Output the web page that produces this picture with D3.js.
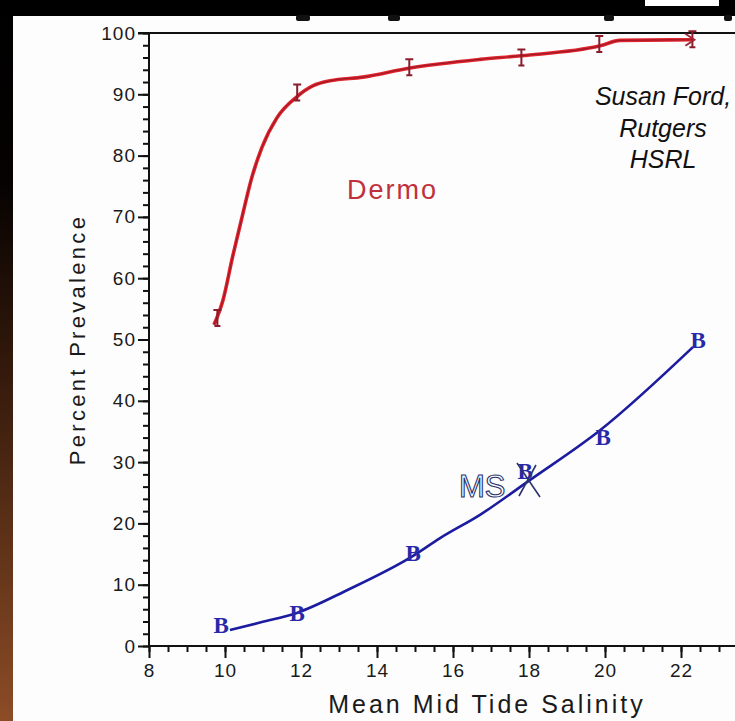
<!DOCTYPE html>
<html><head><meta charset="utf-8">
<script src="https://cdn.jsdelivr.net/npm/d3@7/dist/d3.min.js"></script>
<style>
html,body{margin:0;padding:0;background:#fff;overflow:hidden}
svg{display:block}
</style></head>
<body>
<svg id="c" width="735" height="721"></svg>
<script>
// ---- data ----
const xTickValues = [8, 10, 12, 14, 16, 18, 20, 22];
const yTickValues = [0, 10, 20, 30, 40, 50, 60, 70, 80, 90, 100];
const xMinorValues = d3.range(8, 23.5, 0.5);
const yMinorValues = d3.range(0, 101, 2);

// Dermo fitted curve (salinity, percent)
const dermoCurveX = [9.71, 9.95, 10.2, 10.45, 10.7, 10.97, 11.37, 11.89, 12.32, 12.76, 13.63, 14.87, 16.71, 17.8, 19.87, 20.4, 22.3];
const dermoCurveY = [52.4, 56.5, 63.5, 70.0, 76.3, 81.3, 86.2, 89.6, 91.4, 92.2, 92.8, 94.3, 95.7, 96.3, 97.9, 98.8, 98.9];
// Dermo observed points
const dermoPointX = [9.8, 11.9, 14.85, 17.8, 19.85, 22.3];
const dermoPointY = [53.5, 90.3, 94.4, 96.0, 98.2, 99.0];

// MSX fitted curve
const msxCurveX = [10.13, 10.97, 11.89, 13.21, 14.95, 15.66, 16.71, 18.03, 19.87, 22.32];
const msxCurveY = [2.6, 3.9, 5.4, 9.1, 14.7, 17.6, 21.4, 27.1, 35.2, 48.8];
// MSX observed points
const msxPointX = [9.9, 11.9, 14.95, 17.9, 19.95, 22.45];
const msxPointY = [3.4, 5.4, 15.2, 28.5, 34.1, 50.0];

const yAxisTitle = "Percent Prevalence";
const xAxisTitle = "Mean Mid Tide Salinity";
const creditLines = ["Susan Ford,", "Rutgers", "HSRL"];

// ---- drawing ----
const svg = d3.select("#c");
const W = 735, H = 721;

const defs = svg.append("defs");
const grad = defs.append("linearGradient").attr("id", "leftStrip").attr("x1", 0).attr("y1", 0).attr("x2", 0).attr("y2", 1);
grad.append("stop").attr("offset", "0%").attr("stop-color", "#000");
grad.append("stop").attr("offset", "25%").attr("stop-color", "#050201");
grad.append("stop").attr("offset", "55%").attr("stop-color", "#3a1d0d");
grad.append("stop").attr("offset", "100%").attr("stop-color", "#8c4c26");

svg.append("rect").attr("width", W).attr("height", H).attr("fill", "#fdfdfd");
svg.append("rect").attr("x", 0).attr("y", 0).attr("width", 13).attr("height", H).attr("fill", "url(#leftStrip)");
svg.append("rect").attr("x", 0).attr("y", 0).attr("width", W).attr("height", 16).attr("fill", "#000");
svg.append("rect").attr("x", 645).attr("y", 0).attr("width", 74).attr("height", 6).attr("fill", "#fff");
// remnants of the cropped title below the black band
[[296, 14], [388, 12], [604, 10], [724, 8]].forEach(([px, w]) => {
  svg.append("rect").attr("x", px).attr("y", 15).attr("width", w).attr("height", 6).attr("rx", 2).attr("fill", "#111");
});

const x = d3.scaleLinear().domain([8, 22]).range([149, 681]);
const y = d3.scaleLinear().domain([0, 100]).range([646, 33]);

const fontTick = "'Liberation Sans', Arial, sans-serif";

// y axis minor + major
const gy = svg.append("g").attr("transform", `translate(${x(8)},0)`);
gy.call(d3.axisLeft(y).tickValues(yMinorValues).tickSize(6).tickFormat(""));
const gyM = svg.append("g").attr("transform", `translate(${x(8)},0)`);
gyM.call(d3.axisLeft(y).tickValues(yTickValues).tickSize(11).tickPadding(2).tickFormat(d3.format("d")));
[gy, gyM].forEach(g => {
  g.select(".domain").remove();
  g.selectAll("line").attr("stroke", "#111").attr("stroke-width", 2);
});
gyM.selectAll("text").attr("font-family", fontTick).attr("font-size", 19).attr("fill", "#1a1a1a").attr("letter-spacing", 1);

// x axis
const xEnd = x.invert(W);
const gx = svg.append("g").attr("transform", `translate(0,${y(0)})`);
gx.call(d3.axisBottom(x).tickValues(xMinorValues.filter(v => v <= xEnd)).tickSize(6).tickFormat(""));
const gxM = svg.append("g").attr("transform", `translate(0,${y(0)})`);
gxM.call(d3.axisBottom(x).tickValues(xTickValues).tickSize(12).tickPadding(6).tickFormat(d3.format("d")));
[gx, gxM].forEach(g => {
  g.select(".domain").remove();
  g.selectAll("line").attr("stroke", "#111").attr("stroke-width", 2);
});
gxM.selectAll("text").attr("font-family", fontTick).attr("font-size", 19).attr("fill", "#1a1a1a").attr("letter-spacing", 1);

// axis lines + top frame
svg.append("line").attr("x1", x(8)).attr("x2", W).attr("y1", y(0)).attr("y2", y(0)).attr("stroke", "#111").attr("stroke-width", 2);
svg.append("line").attr("x1", x(8)).attr("x2", x(8)).attr("y1", y(100)).attr("y2", y(0)).attr("stroke", "#111").attr("stroke-width", 2);
svg.append("line").attr("x1", x(8) - 11).attr("x2", W).attr("y1", y(100)).attr("y2", y(100)).attr("stroke", "#111").attr("stroke-width", 2);

// axis titles
svg.append("text").attr("transform", `translate(85,${(y(0) + y(100)) / 2}) rotate(-90)`)
  .attr("text-anchor", "middle").attr("font-family", fontTick).attr("font-size", 22)
  .attr("letter-spacing", 3.3).attr("fill", "#1a1a1a").text(yAxisTitle);
svg.append("text").attr("x", (x(8) + W) / 2 + 45).attr("y", 713)
  .attr("text-anchor", "middle").attr("font-family", fontTick).attr("font-size", 25)
  .attr("letter-spacing", 3).attr("fill", "#1a1a1a").text(xAxisTitle);

// Dermo curve
const dermoData = dermoCurveX.map((v, i) => [v, dermoCurveY[i]]);
const line = d3.line().x(d => x(d[0])).y(d => y(d[1])).curve(d3.curveMonotoneX);
svg.append("path").datum(dermoData).attr("d", line).attr("fill", "none")
  .attr("stroke", "#e0262c").attr("stroke-width", 3.6).attr("stroke-linejoin", "round");
svg.append("path").datum(dermoData).attr("d", line).attr("fill", "none")
  .attr("stroke", "#a01828").attr("stroke-width", 1.2);

// Dermo markers (I shapes)
dermoPointX.forEach((v, i) => {
  const cx = x(v), cy = y(dermoPointY[i]);
  svg.append("path")
    .attr("d", `M${cx - 4},${cy - 8}H${cx + 4}M${cx},${cy - 8}V${cy + 8}M${cx - 3},${cy + 8}H${cx + 3}`)
    .attr("stroke", "#8a1c2c").attr("stroke-width", 2).attr("fill", "none");
});
// arrow tip at end of Dermo curve
{
  const last = dermoData[dermoData.length - 1];
  const ex = x(last[0]), ey = y(last[1]);
  svg.append("path").attr("d", `M${ex - 7},${ey - 6}L${ex + 2},${ey}L${ex - 7},${ey + 6}`)
    .attr("stroke", "#a0283a").attr("stroke-width", 2).attr("fill", "none");
}

// MSX curve
const msxData = msxCurveX.map((v, i) => [v, msxCurveY[i]]);
svg.append("path").datum(msxData).attr("d", line).attr("fill", "none")
  .attr("stroke", "#1c1ca0").attr("stroke-width", 2.6).attr("stroke-linejoin", "round");

// MSX markers (B)
svg.selectAll("text.b").data(msxPointX.map((v, i) => [v, msxPointY[i]])).enter()
  .append("text").attr("class", "b")
  .attr("x", d => x(d[0])).attr("y", d => y(d[1]) + 8)
  .attr("text-anchor", "middle").attr("font-family", "'Liberation Serif', 'DejaVu Serif', serif")
  .attr("font-size", 23).attr("font-weight", "bold").attr("fill", "#2828a8").text("B");

// labels
svg.append("text").attr("x", 347).attr("y", 199).attr("font-family", fontTick)
  .attr("font-size", 27).attr("letter-spacing", 2).attr("fill", "#c0303c").text("Dermo");

svg.append("text").attr("x", 459).attr("y", 497).attr("font-family", fontTick)
  .attr("font-size", 31).attr("fill", "none").attr("stroke", "#2a3470").attr("stroke-width", 1.1).text("MS");
svg.append("path").attr("d", `M517,463L540,497M536,465L519,496`).attr("stroke", "#2a3470").attr("stroke-width", 1.6);

svg.selectAll("text.credit").data(creditLines).enter().append("text").attr("class", "credit")
  .attr("x", 663).attr("y", (d, i) => 105 + i * 31.5)
  .attr("text-anchor", "middle").attr("font-family", fontTick).attr("font-style", "italic")
  .attr("font-size", 25).attr("fill", "#111").text(d => d);
</script>
</body></html>
